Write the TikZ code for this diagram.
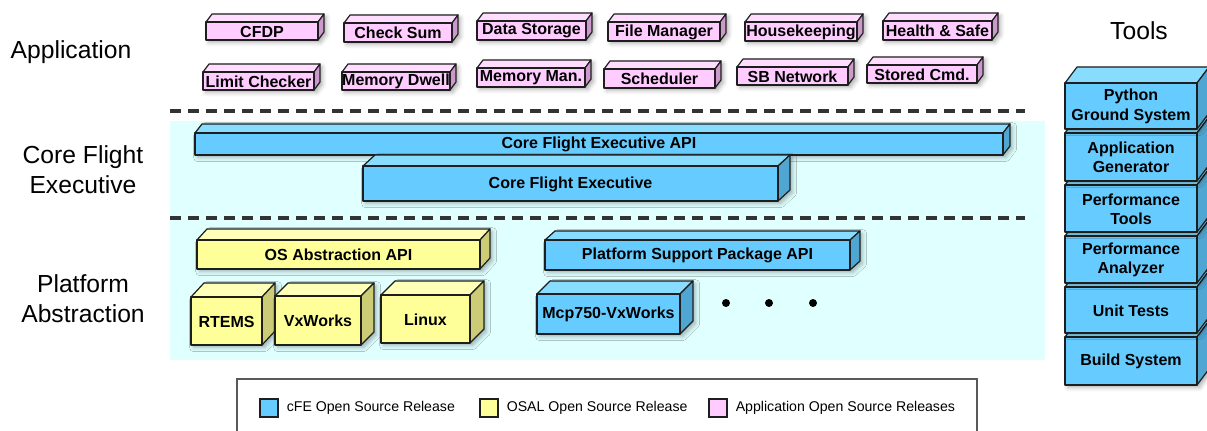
\documentclass[tikz,border=0pt]{standalone}
\usepackage{fontspec}
\setmainfont{Liberation Sans}
\usetikzlibrary{positioning,shadows.blur}

\definecolor{pinkfront}{HTML}{FFCCFF}
\definecolor{pinktop}{HTML}{FFDDFF}
\definecolor{pinkside}{HTML}{CC99CC}
\definecolor{bluefront}{HTML}{66CCFF}
\definecolor{bluetop}{HTML}{88DDFF}
\definecolor{blueside}{HTML}{4FA6D2}
\definecolor{yellowfront}{HTML}{FFFF99}
\definecolor{yellowtop}{HTML}{FFFFB8}
\definecolor{yellowside}{HTML}{CCCC77}
\definecolor{platecyan}{HTML}{E0FFFF}
\definecolor{edgegray}{HTML}{1E1E1E}
\definecolor{dashgray}{HTML}{333333}

\tikzset{
  boxline/.style={draw=edgegray, line width=0.9pt, line join=round},
  boxtext/.style={font=\bfseries\fontsize{12}{14.5}\selectfont, text=black, align=center},
  layername/.style={font=\fontsize{18.5}{22.5}\selectfont, align=center},
  separator/.style={draw=dashgray, line width=2.3pt, dash pattern=on 8.5pt off 5pt},
  keybox/.style={draw=edgegray, line width=0.8pt, minimum size=13.5pt, inner sep=0pt},
  keytext/.style={font=\fontsize{10.6}{13}\selectfont, inner sep=0pt},
  boxshadow/.style={blur shadow={shadow xshift=2pt, shadow yshift=-2pt,
      shadow blur radius=3pt, shadow opacity=30}},
}

% 3d block: name, x1, y1, x2, y2, dx, dy, colour prefix, text
\newcommand{\solidbox}[9]{%
  \path[boxshadow] (#2,#5) -- (#2,#3) -- (#2+#6,#3+#7) -- (#4+#6,#3+#7)
    -- (#4+#6,#5+#7) -- (#4,#5) -- cycle;
  \filldraw[boxline, fill=#8top] (#2,#3) -- (#2+#6,#3+#7) -- (#4+#6,#3+#7) -- (#4,#3) -- cycle;
  \filldraw[boxline, fill=#8side] (#4,#3) -- (#4+#6,#3+#7) -- (#4+#6,#5+#7) -- (#4,#5) -- cycle;
  \filldraw[boxline, fill=#8front] (#2,#3) rectangle (#4,#5);
  \node[boxtext] (#1) at ({(#2+#4)/2},{(#3+#5)/2+0.5}) {#9};}

\begin{document}
\begin{tikzpicture}[x=0.75pt, y=-0.75pt]
  \path[use as bounding box, clip] (0,0) rectangle (1207,431);
  % helper grid: comment for final drawing
  % \draw[help lines, step=50] (0,0) grid (1207,431);

  % plate behind cFE and platform layers
  \fill[platecyan] (170,121) rectangle (1045,360);

  % layer separators
  \draw[separator] (170,111) -- (1025,111);
  \draw[separator] (170,218) -- (1025,218);

  % layer names
  \node[layername] (appname) at (71,52) {Application};
  \node[layername] (cfename) at (83,170) {Core Flight\\Executive};
  \node[layername] (psname) at (83,299) {Platform\\Abstraction};
  \node[layername] (toolsname) at (1139,31) {Tools};

  % applications
  \solidbox{cfdp}{206}{22}{318}{40}{6}{-8}{pink}{CFDP}
  \solidbox{checksum}{344}{23}{452}{42}{6}{-8}{pink}{Check Sum}
  \solidbox{datastore}{477}{21}{586}{40}{6}{-8}{pink}{Data Storage}
  \solidbox{filemgr}{608}{22}{720}{41}{6}{-8}{pink}{File Manager}
  \solidbox{housekeep}{745}{22}{857}{41}{6}{-8}{pink}{Housekeeping}
  \solidbox{healthsafe}{883}{21}{992}{40}{6}{-8}{pink}{Health \& Safe}
  \solidbox{limitchk}{203}{72}{314}{90}{6}{-8}{pink}{Limit Checker}
  \solidbox{memdwell}{342}{72}{450}{90}{6}{-8}{pink}{Memory Dwell}
  \solidbox{memman}{477}{68}{585}{87}{6}{-8}{pink}{Memory Man.}
  \solidbox{scheduler}{604}{69}{715}{88}{6}{-8}{pink}{Scheduler}
  \solidbox{sbnet}{737}{67}{848}{85}{6}{-8}{pink}{SB Network}
  \solidbox{storedcmd}{867}{65}{977}{83}{6}{-8}{pink}{Stored Cmd.}

  % core flight executive
  \solidbox{cfeapi}{195}{133}{1003}{155}{7}{-9}{blue}{Core Flight Executive API}
  \solidbox{cfe}{363}{166}{778}{201}{12}{-11}{blue}{Core Flight Executive}

  % platform abstraction
  \solidbox{osapi}{197}{240}{480}{269}{10}{-11}{yellow}{OS Abstraction API}
  \solidbox{rtems}{191}{297}{262}{345}{13}{-14}{yellow}{RTEMS}
  \solidbox{vxworks}{275}{296}{361}{345}{13}{-13}{yellow}{VxWorks}
  \solidbox{linux}{381}{295}{470}{343}{14}{-14}{yellow}{Linux}
  \solidbox{pspapi}{545}{240}{850}{270}{10}{-9}{blue}{Platform Support Package API}
  \solidbox{mcp}{537}{294}{680}{334}{13}{-13}{blue}{Mcp750-VxWorks}
  \fill (726,303) circle (3pt) (769,303) circle (3pt) (813,303) circle (3pt);

  % tools stack, bottom first
  \solidbox{buildsys}{1065}{337}{1197}{385}{12}{-16}{blue}{Build System}
  \solidbox{unittests}{1065}{287}{1197}{333}{12}{-16}{blue}{Unit Tests}
  \solidbox{perfanalyzer}{1065}{236}{1197}{283}{12}{-16}{blue}{Performance\\Analyzer}
  \solidbox{perftools}{1065}{185}{1197}{232}{12}{-16}{blue}{Performance\\Tools}
  \solidbox{appgen}{1065}{133}{1197}{181}{12}{-16}{blue}{Application\\Generator}
  \solidbox{groundsys}{1065}{83}{1197}{129}{12}{-16}{blue}{Python\\Ground System}

  % legend
  \draw[draw=gray!70!black, line width=0.9pt, fill=white] (237,379) rectangle (977,445);
  \node[keybox, fill=bluefront] (keycfe) at (269,408) {};
  \node[keytext, right=6pt of keycfe] (txtcfe) {cFE Open Source Release};
  \node[keybox, fill=yellowfront] (keyosal) at (489,408) {};
  \node[keytext, right=6pt of keyosal] (txtosal) {OSAL Open Source Release};
  \node[keybox, fill=pinkfront] (keyapp) at (718,408) {};
  \node[keytext, right=6pt of keyapp] (txtapp) {Application Open Source Releases};
\end{tikzpicture}
\end{document}
